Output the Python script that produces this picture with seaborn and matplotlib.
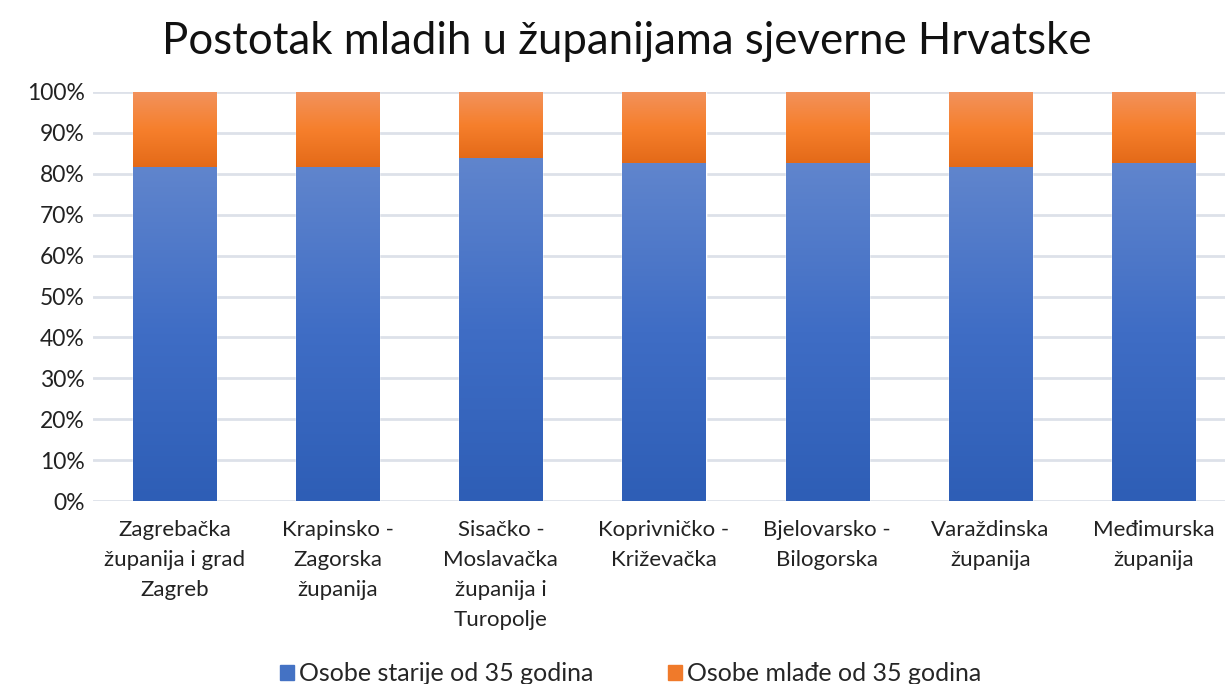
import numpy as np
import pandas as pd
import seaborn as sns
import matplotlib.pyplot as plt
from matplotlib.colors import LinearSegmentedColormap
from matplotlib.patches import Patch

counties = ['Zagrebačka\nžupanija i grad\nZagreb', 'Krapinsko -\nZagorska\nžupanija',
            'Sisačko -\nMoslavačka\nžupanija i\nTuropolje', 'Koprivničko -\nKriževačka',
            'Bjelovarsko -\nBilogorska', 'Varaždinska\nžupanija', 'Međimurska\nžupanija']
older = [81.7, 81.7, 83.9, 82.6, 82.6, 81.7, 82.6]
younger = [100 - v for v in older]

df = pd.DataFrame({'county': counties, 'older': older, 'younger': younger})
df['total'] = df['older'] + df['younger']

sns.set_theme(style='white')
plt.rcParams['font.family'] = ['Lato', 'DejaVu Sans']

fig = plt.figure(figsize=(12.25, 6.84), dpi=100)
ax = fig.add_axes([93 / 1225, 183 / 684, 1142 / 1225, 409 / 684])

sns.barplot(data=df, x='county', y='total', color='#f57d2b', width=0.51, ax=ax, zorder=2)
sns.barplot(data=df, x='county', y='older', color='#4472c4', width=0.51, ax=ax, zorder=2)

blue_cm = LinearSegmentedColormap.from_list('b', ['#2e5eb6', '#3f6dc5', '#6085cd'])
orange_cm = LinearSegmentedColormap.from_list('o', ['#e46a18', '#f67f2c', '#f2925c'])
grad = np.linspace(0, 1, 256).reshape(-1, 1)
n = len(df)
for i, p in enumerate(ax.patches):
    x0, w = p.get_x(), p.get_width()
    if i < n:
        # orange segment only spans from the blue top to 100%
        cm, y0, y1 = orange_cm, df['older'][i], df['total'][i]
    else:
        cm, y0, y1 = blue_cm, 0, df['older'][i - n]
    im = ax.imshow(grad, cmap=cm, origin='lower', aspect='auto',
                   extent=[x0, x0 + w, y0, y1], zorder=3 if i < n else 4)
    im.set_clip_path(p)

ax.set_xlim(-0.5, n - 0.5)
ax.set_ylim(0, 100)
ax.set_yticks(range(0, 101, 10))
ax.set_yticklabels([f'{v}%' for v in range(0, 101, 10)], fontsize=16.5, color='#222222')
ax.tick_params(axis='x', labelsize=16, colors='#222222', pad=14, length=0)
ax.tick_params(axis='y', length=0, pad=6)
for lbl in ax.get_xticklabels():
    lbl.set_linespacing(1.62)
ax.set_xlabel('')
ax.set_ylabel('')
ax.grid(axis='y', color='#dde1e9', linewidth=2, zorder=0)
ax.set_axisbelow(True)
for s in ax.spines.values():
    s.set_visible(False)

fig.suptitle('Postotak mladih u županijama sjeverne Hrvatske', fontsize=31.5,
             x=0.512, y=0.97, color='#111111')

handles = [Patch(color='#4472c4'), Patch(color='#f07a2a')]
fig.legend(handles, ['Osobe starije od 35 godina', 'Osobe mlađe od 35 godina'],
           loc='lower center', bbox_to_anchor=(0.515, -0.035), ncol=2, frameon=False,
           fontsize=18, handlelength=0.55, handleheight=0.55, columnspacing=3, handletextpad=0.2)

fig.savefig('out.png', dpi=100)
